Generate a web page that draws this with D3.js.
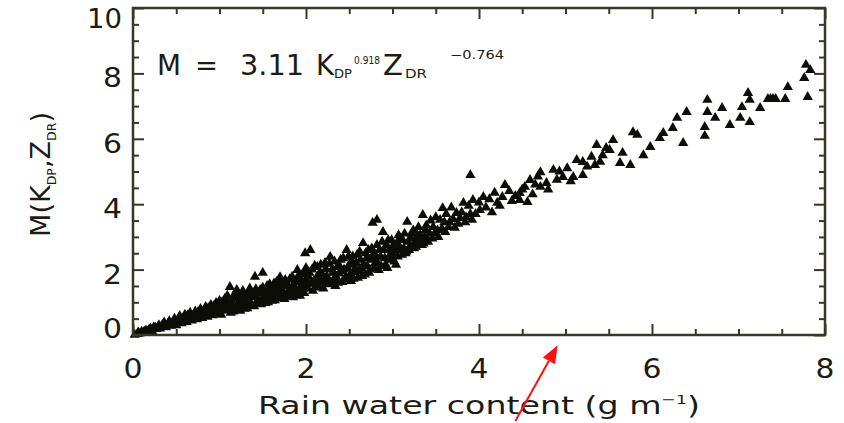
<!DOCTYPE html>
<html>
<head>
<meta charset="utf-8">
<script src="https://cdn.jsdelivr.net/npm/d3@7"></script>
<style>
  html, body { margin: 0; padding: 0; background: #ffffff; }
  svg { display: block; }
</style>
</head>
<body>
<svg id="chart" width="844" height="423"></svg>
<script>
// Rain water content W (g m^-1) against the polarimetric estimate M(K_DP, Z_DR)
// Pairs are [W, M].
const nearOrigin = [
  [0.02,0.01],[0.05,0.03],[0.08,0.05],[0.10,0.10],[0.12,0.06],[0.15,0.14],[0.17,0.09],[0.20,0.20],
  [0.22,0.12],[0.24,0.24],[0.27,0.18],[0.30,0.30],[0.31,0.20],[0.33,0.26],[0.36,0.38],[0.38,0.24],
  [0.40,0.33],[0.42,0.42],[0.44,0.28],[0.46,0.37],[0.48,0.50],[0.50,0.30],[0.52,0.44],[0.54,0.58],
  [0.56,0.36],[0.58,0.50],[0.60,0.62],[0.62,0.40],[0.64,0.53],[0.66,0.68],[0.68,0.44],[0.70,0.60],
  [0.72,0.72],[0.74,0.48],[0.76,0.64],[0.78,0.80],[0.80,0.52],[0.82,0.70],[0.84,0.86],[0.86,0.56],
  [0.88,0.75],[0.90,0.92],[0.92,0.60],[0.94,0.80],[0.96,0.98],[0.98,0.66],[1.00,0.85],[1.00,1.05],
  [0.06,0.08],[0.13,0.11],[0.18,0.15],[0.21,0.16],[0.26,0.22],[0.29,0.25],[0.34,0.31],[0.37,0.29],
  [0.41,0.37],[0.45,0.34],[0.47,0.43],[0.51,0.38],[0.53,0.50],[0.57,0.45],[0.59,0.55],[0.61,0.48],
  [0.63,0.60],[0.67,0.56],[0.69,0.52],[0.71,0.66],[0.73,0.58],[0.75,0.70],[0.77,0.55],[0.79,0.68],
  [0.81,0.60],[0.83,0.78],[0.85,0.65],[0.87,0.82],[0.89,0.68],[0.91,0.76],[0.93,0.88],[0.95,0.70],
  [0.97,0.85],[0.99,0.95]
];
const lowRange = [
  [1.02,0.62],[1.04,0.92],[1.06,1.10],[1.08,0.75],[1.10,0.98],[1.12,1.47],[1.13,0.68],[1.15,0.88],
  [1.17,1.15],[1.19,0.78],[1.20,1.38],[1.22,1.00],[1.24,0.74],[1.26,1.22],[1.28,0.90],[1.30,1.08],
  [1.32,0.82],[1.34,1.30],[1.36,0.98],[1.38,1.18],[1.40,0.88],[1.41,1.78],[1.42,1.40],[1.44,1.06],
  [1.46,1.26],[1.48,0.94],[1.50,1.90],[1.50,1.45],[1.52,1.15],[1.54,1.32],[1.56,1.00],[1.58,1.55],
  [1.60,1.22],[1.62,1.40],[1.64,1.06],[1.66,1.62],[1.68,1.30],[1.70,1.77],[1.70,1.12],[1.72,1.50],
  [1.74,1.20],[1.76,1.68],[1.78,1.59],[1.80,1.35],[1.82,1.18],[1.84,1.78],[1.86,1.45],[1.88,1.26],
  [1.90,1.99],[1.90,1.62],[1.92,1.32],[1.94,1.50],[1.96,1.85],[1.98,1.28],[2.00,1.70],[2.00,2.05],
  [1.01,0.75],[1.03,1.00],[1.05,0.82],[1.07,0.95],[1.09,1.20],[1.11,0.80],[1.14,1.05],[1.16,0.72],
  [1.18,1.28],[1.21,0.90],[1.23,1.12],[1.25,0.95],[1.27,1.35],[1.29,0.80],[1.31,1.18],[1.33,1.02],
  [1.35,1.42],[1.37,0.90],[1.39,1.28],[1.43,1.15],[1.45,0.98],[1.47,1.38],[1.49,1.08],[1.51,1.28],
  [1.53,0.98],[1.55,1.50],[1.57,1.18],[1.59,1.35],[1.61,1.05],[1.63,1.58],[1.65,1.25],[1.67,1.45],
  [1.69,1.15],[1.71,1.62],[1.73,1.35],[1.75,1.10],[1.77,1.48],[1.79,1.25],[1.81,1.70],[1.83,1.40],
  [1.85,1.15],[1.87,1.62],[1.89,1.38],[1.91,1.80],[1.93,1.20],[1.95,1.65],[1.97,1.42],[1.99,1.88]
];
const midRange = [
  [1.99,2.50],[2.05,2.60],[2.02,1.42],[2.04,1.90],[2.06,1.58],[2.08,1.35],[2.10,2.12],[2.12,1.75],
  [2.13,2.08],[2.14,1.50],[2.16,1.92],[2.18,1.62],[2.20,1.42],[2.22,2.20],[2.24,1.80],[2.26,1.55],
  [2.28,2.39],[2.30,2.00],[2.32,1.70],[2.34,1.50],[2.36,2.08],[2.38,1.88],[2.40,2.30],[2.42,1.62],
  [2.44,2.00],[2.46,1.78],[2.47,2.60],[2.50,2.15],[2.52,1.65],[2.54,2.40],[2.56,1.92],[2.58,2.20],
  [2.60,1.75],[2.62,2.55],[2.64,2.05],[2.66,2.81],[2.68,1.85],[2.70,2.35],[2.72,2.60],[2.74,2.00],
  [2.77,3.43],[2.78,2.48],[2.80,2.20],[2.82,3.52],[2.82,2.75],[2.84,1.99],[2.86,2.40],[2.89,3.15],
  [2.90,2.60],[2.92,2.15],[2.95,2.90],[2.97,2.45],[3.00,2.70],[3.02,2.25],[3.05,2.81],[3.07,3.05],
  [3.10,2.60],[3.12,2.90],[3.15,2.50],[3.17,3.46],[3.20,2.70],[3.22,3.10],[3.25,2.65],[3.28,2.95],
  [3.30,3.30],[3.32,3.06],[3.35,3.67],[3.36,2.80],[3.38,3.20],[3.40,2.95],
  [2.01,1.55],[2.03,1.78],[2.07,2.00],[2.09,1.65],[2.11,1.45],[2.15,1.70],[2.17,2.15],[2.19,1.85],
  [2.21,1.60],[2.23,2.02],[2.25,1.72],[2.27,2.18],[2.29,1.60],[2.31,1.90],[2.33,2.25],[2.35,1.78],
  [2.37,1.60],[2.39,2.10],[2.41,1.95],[2.43,2.35],[2.45,1.70],[2.48,2.05],[2.49,2.40],[2.51,1.85],
  [2.53,2.25],[2.55,1.72],[2.57,2.05],[2.59,2.45],[2.61,1.95],[2.63,2.30],[2.65,1.80],[2.67,2.15],
  [2.69,2.50],[2.71,2.10],[2.73,1.90],[2.75,2.30],[2.76,2.65],[2.79,2.05],[2.81,2.40],[2.83,2.20],
  [2.85,2.60],[2.87,2.10],[2.88,2.85],[2.91,2.35],[2.93,2.75],[2.94,2.05],[2.96,2.60],[2.98,2.30],
  [2.99,2.90],[3.01,2.45],[3.03,2.60],[3.04,2.15],[3.06,2.40],[3.08,2.70],[3.09,2.95],[3.11,2.45],
  [3.13,2.65],[3.14,3.10],[3.16,2.55],[3.18,2.85],[3.19,2.60],[3.21,2.95],[3.23,2.70],[3.24,3.20],
  [3.26,2.80],[3.27,2.70],[3.29,3.05],[3.31,2.75],[3.33,2.90],[3.34,2.75],[3.37,3.00],[3.39,3.35],
  [3.41,2.85],[3.43,3.10],[3.44,3.50]
];
const highRange = [
  [3.46,2.95],[3.49,3.12],[3.53,3.00],[3.57,3.25],[3.61,3.15],[3.66,3.45],[3.72,3.28],[3.78,3.58],
  [3.84,3.45],[3.90,3.70],
  [3.47,3.30],[3.50,3.60],[3.52,3.20],[3.55,3.52],[3.58,3.88],[3.60,3.45],[3.62,3.70],[3.65,3.30],
  [3.68,3.90],[3.70,3.55],[3.74,3.73],[3.76,3.40],[3.80,3.75],[3.82,4.04],[3.85,3.60],[3.88,3.95],
  [3.90,4.89],[3.92,3.52],[3.93,4.13],[3.96,3.70],[4.00,4.05],[4.01,3.82],[4.05,4.22],[4.08,3.90],
  [4.12,4.15],[4.15,3.75],[4.18,4.35],[4.21,4.04],[4.24,3.95],[4.27,4.22],[4.30,4.59],[4.35,4.40],
  [4.38,4.10],[4.42,4.25],[4.47,4.34],[4.47,4.13],[4.50,4.45],[4.53,4.53],[4.56,4.07],[4.59,4.74],
  [4.62,4.30],[4.65,4.60],[4.68,4.85],[4.71,4.98],[4.71,4.53],[4.78,4.65],[4.80,4.45],[4.86,5.05],
  [4.90,4.75],[4.93,5.00],[4.97,4.83],[5.02,5.10],[5.06,4.70],[5.09,4.83],[5.13,5.35],[5.20,5.29],
  [5.20,4.89],[5.25,5.15],[5.30,5.45],[5.34,5.20],[5.36,5.81],[5.40,5.30],[5.43,5.50],[5.47,5.72],
  [5.51,5.66],[5.55,5.96],[5.63,5.26],[5.66,5.57],[5.75,5.20],[5.78,6.20],[5.83,6.12],[5.90,5.50],
  [5.98,5.75],[6.09,6.02],[6.13,6.18],[6.24,6.33],[6.29,6.64],[6.36,5.87],[6.40,6.82],[6.61,6.36],
  [6.61,6.09],[6.64,7.19],[6.64,6.82],[6.73,6.64],[6.81,6.94],[6.90,6.42],[7.02,6.64],[7.04,6.97],
  [7.13,6.51],[7.11,7.40],[7.13,7.19],[7.25,6.94],[7.34,7.22],[7.37,7.22],[7.40,7.22],[7.43,7.22],
  [7.54,7.22],[7.57,7.58],[7.76,7.86],[7.78,8.26],[7.80,7.28],[7.83,8.10]
];

const xTicks = [0, 2, 4, 6, 8];
const yTicks = [0, 2, 4, 6, 8, 10];
const minorStep = 0.5;

// Pointer drawn below the axis: [W, M] of tail and head
const pointerTail = [4.42, -2.63];
const pointerTip = [4.91, -0.31];

const ink = "#1c1b12";
const frameInk = "#3a3824";
const font = "'DejaVu Sans', 'Liberation Sans', sans-serif";

const svg = d3.select("#chart");
const plotLeft = 133, plotRight = 825, plotTop = 8, plotBottom = 335;

const x = d3.scaleLinear().domain([0, 8]).range([plotLeft, plotRight]);
const y = d3.scaleLinear().domain([0, 10]).range([plotBottom, plotTop]);

const minorX = d3.range(0, 8 + 1e-9, minorStep).filter(v => !xTicks.includes(v));
const minorY = d3.range(0, 10 + 1e-9, minorStep).filter(v => !yTicks.includes(v));

// Scatter of filled triangles
const points = [].concat(nearOrigin, lowRange, midRange, highRange);
const tri = d3.symbol().type(d3.symbolTriangle).size(46);
svg.append("g")
  .selectAll("path")
  .data(points)
  .join("path")
  .attr("d", tri)
  .attr("transform", d => `translate(${x(d[0])},${y(d[1])})`)
  .attr("fill", "#0d0d08");

// Axes with inward ticks on all four sides
function styleAxis(g) {
  g.select(".domain").remove();
  g.selectAll("line").attr("stroke", frameInk).attr("stroke-width", 2);
  g.selectAll("text").remove();
}
const majorLen = 11, minorLen = 6;
svg.append("g").attr("transform", `translate(0,${plotBottom})`)
  .call(d3.axisBottom(x).tickValues(xTicks).tickSize(-majorLen)).call(styleAxis);
svg.append("g").attr("transform", `translate(0,${plotBottom})`)
  .call(d3.axisBottom(x).tickValues(minorX).tickSize(-minorLen)).call(styleAxis);
svg.append("g").attr("transform", `translate(0,${plotTop})`)
  .call(d3.axisTop(x).tickValues(xTicks).tickSize(-majorLen)).call(styleAxis);
svg.append("g").attr("transform", `translate(0,${plotTop})`)
  .call(d3.axisTop(x).tickValues(minorX).tickSize(-minorLen)).call(styleAxis);
svg.append("g").attr("transform", `translate(${plotLeft},0)`)
  .call(d3.axisLeft(y).tickValues(yTicks).tickSize(-majorLen)).call(styleAxis);
svg.append("g").attr("transform", `translate(${plotLeft},0)`)
  .call(d3.axisLeft(y).tickValues(minorY).tickSize(-minorLen)).call(styleAxis);
svg.append("g").attr("transform", `translate(${plotRight},0)`)
  .call(d3.axisRight(y).tickValues(yTicks).tickSize(-majorLen)).call(styleAxis);
svg.append("g").attr("transform", `translate(${plotRight},0)`)
  .call(d3.axisRight(y).tickValues(minorY).tickSize(-minorLen)).call(styleAxis);

svg.append("rect")
  .attr("x", plotLeft).attr("y", plotTop)
  .attr("width", plotRight - plotLeft).attr("height", plotBottom - plotTop)
  .attr("fill", "none").attr("stroke", frameInk).attr("stroke-width", 2.5);

// Tick labels (wide plotter-style digits)
const digitW = 19;
svg.append("g").selectAll("text")
  .data(xTicks).join("text")
  .attr("x", d => x(d)).attr("y", 378)
  .attr("text-anchor", "middle")
  .attr("font-family", font).attr("font-size", 27).attr("fill", ink)
  .attr("textLength", d => String(d).length * digitW)
  .attr("lengthAdjust", "spacingAndGlyphs")
  .text(d => d);

svg.append("g").selectAll("text")
  .data(yTicks).join("text")
  .attr("x", 122)
  .attr("y", d => Math.min(Math.max(y(d) + 14, plotTop + 20), plotBottom + 3))
  .attr("text-anchor", "end")
  .attr("font-family", font).attr("font-size", 27).attr("fill", ink)
  .attr("textLength", d => String(d).length * digitW - (d >= 10 ? 3 : 0))
  .attr("lengthAdjust", "spacingAndGlyphs")
  .text(d => d);

// Axis titles
const xt = svg.append("text")
  .attr("x", (plotLeft + plotRight) / 2).attr("y", 414)
  .attr("text-anchor", "middle")
  .attr("font-family", font).attr("font-size", 25).attr("fill", ink)
  .attr("textLength", 442).attr("lengthAdjust", "spacingAndGlyphs");
xt.append("tspan").text("Rain water content (g m");
xt.append("tspan").attr("dy", -10).attr("font-size", 13).text("−1");
xt.append("tspan").attr("dy", 10).text(")");

const yt = svg.append("text")
  .attr("transform", "translate(50,237) rotate(-90)")
  .attr("text-anchor", "start")
  .attr("font-family", font).attr("font-size", 26).attr("fill", ink)
  .attr("textLength", 125).attr("lengthAdjust", "spacingAndGlyphs");
yt.append("tspan").text("M(K");
yt.append("tspan").attr("dy", 6).attr("font-size", 12).text("DP");
yt.append("tspan").attr("dy", -6).text(",Z");
yt.append("tspan").attr("dy", 6).attr("font-size", 12).text("DR");
yt.append("tspan").attr("dy", -6).text(")");

// Fitted relation
const eq = svg.append("g").attr("font-family", font).attr("fill", ink);
const eqParts = [
  { t: "M", x: 157, y: 75, s: 29, w: 24 },
  { t: "=", x: 195, y: 75, s: 29, w: 23 },
  { t: "3.11", x: 240, y: 75, s: 29, w: 64 },
  { t: "K", x: 316, y: 75, s: 29, w: 18 },
  { t: "DP", x: 334, y: 78, s: 12, w: 18 },
  { t: "0.918", x: 354, y: 64, s: 11, w: 26 },
  { t: "Z", x: 383, y: 75, s: 29, w: 20 },
  { t: "DR", x: 405, y: 78, s: 12, w: 22 },
  { t: "−0.764", x: 450, y: 59, s: 12, w: 54 }
];
eq.selectAll("text").data(eqParts).join("text")
  .attr("x", d => d.x).attr("y", d => d.y)
  .attr("font-size", d => d.s)
  .attr("textLength", d => d.w).attr("lengthAdjust", "spacingAndGlyphs")
  .text(d => d.t);

// Red pointer arrow
const tx = x(pointerTail[0]), ty = y(pointerTail[1]);
const hx = x(pointerTip[0]), hy = y(pointerTip[1]);
const ang = Math.atan2(hy - ty, hx - tx);
const headLen = 18, headHalf = 7;
const bx = hx - headLen * Math.cos(ang), by = hy - headLen * Math.sin(ang);
svg.append("line")
  .attr("x1", tx).attr("y1", ty).attr("x2", bx).attr("y2", by)
  .attr("stroke", "#ff1010").attr("stroke-width", 2);
svg.append("path")
  .attr("d", d3.line()([
    [hx, hy],
    [bx + headHalf * Math.sin(ang), by - headHalf * Math.cos(ang)],
    [bx - headHalf * Math.sin(ang), by + headHalf * Math.cos(ang)]
  ]) + "Z")
  .attr("fill", "#ff1010");
</script>
</body>
</html>
